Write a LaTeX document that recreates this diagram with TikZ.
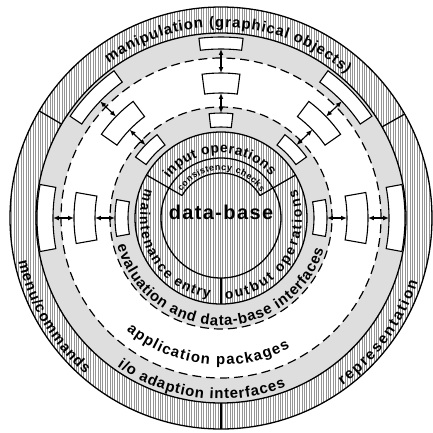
\documentclass[tikz,border=0pt]{standalone}
\usepackage{fontspec}
\setmainfont{Liberation Sans}
\newfontfamily\dbfamily[LetterSpace=7]{Liberation Sans}
\usetikzlibrary{decorations.text,arrows.meta}
\newcommand\fL{\fontsize{15}{15}\selectfont\bfseries}
\newcommand\fM{\fontsize{14}{14}\selectfont\bfseries}
\newcommand\fS{\fontsize{9}{9}\selectfont\bfseries}
\newcommand\fDB{\dbfamily\fontsize{20}{20}\selectfont\bfseries}
\tikzset{
  ringline/.style={line width=1.3pt},
  dashring/.style={line width=1.2pt, dash pattern=on 9pt off 5pt},
  boxst/.style={draw, fill=white, line width=1.1pt, line join=miter},
  dbl/.style={{Latex[length=6pt,width=5pt]}-{Latex[length=6pt,width=5pt]}, line width=1.2pt},
  hatchln/.style={line width=0.35pt, black!42},
  stip/.style={fill=black!13},
  arctext/.style={decorate, decoration={text along path, text color=black, text align={fit to path}}}
}
\newcommand\annbox[4]{% angle, half width, r in, r out
  \pgfmathsetmacro\bxA{#1-#2}\pgfmathsetmacro\bxB{#1+#2}
  \path[boxst] (\bxA:#3) arc[start angle=\bxA, end angle=\bxB, radius=#3] -- (\bxB:#4) arc[start angle=\bxB, end angle=\bxA, radius=#4] -- cycle;}
\begin{document}
\begin{tikzpicture}[x=1bp,y=1bp]
\useasboundingbox (-221,-214) rectangle (212,218);
\fill[white] (-221,-214) rectangle (212,218);
% outer hatched ring
\begin{scope}
  \clip (0,0) circle[radius=211];
  \foreach \x in {-212,-209.6,...,212} \draw[hatchln] (\x,-212) -- (\x,212);
\end{scope}
\fill[stip] (0,0) circle[radius=185];
\fill[white] (0,0) circle[radius=160];
\fill[stip] (0,0) circle[radius=111];
\fill[white] (0,0) circle[radius=86];
\begin{scope}
  \clip (0,0) circle[radius=86];
  \foreach \x in {-87.2,-84.8,...,87} \draw[hatchln] (\x,-87) -- (\x,87);
\end{scope}
% circles
\draw[ringline] (0,0) circle[radius=211];
\draw[ringline] (0,0) circle[radius=185];
\draw[dashring] (0,0) circle[radius=160];
\draw[dashring] (0,0) circle[radius=111];
\draw[ringline] (0,0) circle[radius=86];
\draw[ringline] (0,0) circle[radius=60];
\draw[ringline] (30:45) arc[start angle=30, end angle=150, radius=45];
% dividers
\draw[ringline] (149.5:185) -- (149.5:211);
\draw[ringline] (29.5:185) -- (29.5:211);
\draw[ringline] (270:185) -- (270:211);
\draw[ringline] (150:45) -- (150:86);
\draw[ringline] (30:45) -- (30:86);
\draw[ringline] (270:60) -- (270:86);
% boxes
\annbox{90}{7}{169}{181}
\annbox{90}{7.5}{125}{145}
\annbox{90}{6.5}{91}{105}
\annbox{136}{10}{168}{182}
\annbox{136}{9}{127}{146}
\annbox{136}{8.5}{92}{105}
\annbox{44}{10}{168}{182}
\annbox{44}{9}{127}{146}
\annbox{44}{8.5}{92}{105}
\annbox{180}{10.5}{168}{184}
\annbox{180}{10}{126}{147}
\annbox{180}{10}{93}{106}
\annbox{0}{10.5}{168}{184}
\annbox{0}{10}{126}{147}
\annbox{0}{10}{93}{106}
% arrow end points
\coordinate (t1) at (90:169); \coordinate (t2) at (90:145);
\coordinate (t3) at (90:125); \coordinate (t4) at (90:105);
\coordinate (ul1) at (136:168); \coordinate (ul2) at (136:146);
\coordinate (ul3) at (136:127); \coordinate (ul4) at (136:105);
\coordinate (ur1) at (44:168); \coordinate (ur2) at (44:146);
\coordinate (ur3) at (44:127); \coordinate (ur4) at (44:105);
\coordinate (l1) at (180:168); \coordinate (l2) at (180:147);
\coordinate (l3) at (180:126); \coordinate (l4) at (180:106);
\coordinate (r1) at (0:168); \coordinate (r2) at (0:147);
\coordinate (r3) at (0:126); \coordinate (r4) at (0:106);
\foreach \p in {t,ul,ur,l,r} {
  \draw[dbl] (\p1) -- (\p2);
  \draw[dbl] (\p3) -- (\p4);
}
% texts along arcs
\path[arctext, decoration={text={|\fL|manipulation (graphical objects)}}]
  (126:191) arc[start angle=126, end angle=49, radius=191];
\path[arctext, decoration={text={|\fL|menu/commands}}]
  (192:207) arc[start angle=192, end angle=229, radius=207];
\path[arctext, decoration={text={|\fL|representation}}]
  (306:207) arc[start angle=306, end angle=342, radius=207];
\path[arctext, decoration={text={|\fL|i/o adaption interfaces}}]
  (235:181) arc[start angle=235, end angle=291, radius=181];
\path[arctext, decoration={text={|\fL|application packages}}]
  (230:147) arc[start angle=230, end angle=298, radius=147];
\path[arctext, decoration={text={|\fL|evaluation and data-base interfaces}}]
  (195:107.5) arc[start angle=195, end angle=343, radius=107.5];
\path[arctext, decoration={text={|\fM|maintenance entry}}]
  (159:81) arc[start angle=159, end angle=262, radius=81];
\path[arctext, decoration={text={|\fM|outbut operations}}]
  (273:81) arc[start angle=273, end angle=381, radius=81];
\path[arctext, decoration={text={|\fM|input operations}}]
  (143:65) arc[start angle=143, end angle=40, radius=65];
\path[arctext, decoration={text={|\fS|consistency checks}}]
  (146:47.5) arc[start angle=146, end angle=33, radius=47.5];
\node[font=\fDB, text=black, anchor=base, inner sep=0pt] (db) at (0,-1) {data-base};
\end{tikzpicture}
\end{document}
